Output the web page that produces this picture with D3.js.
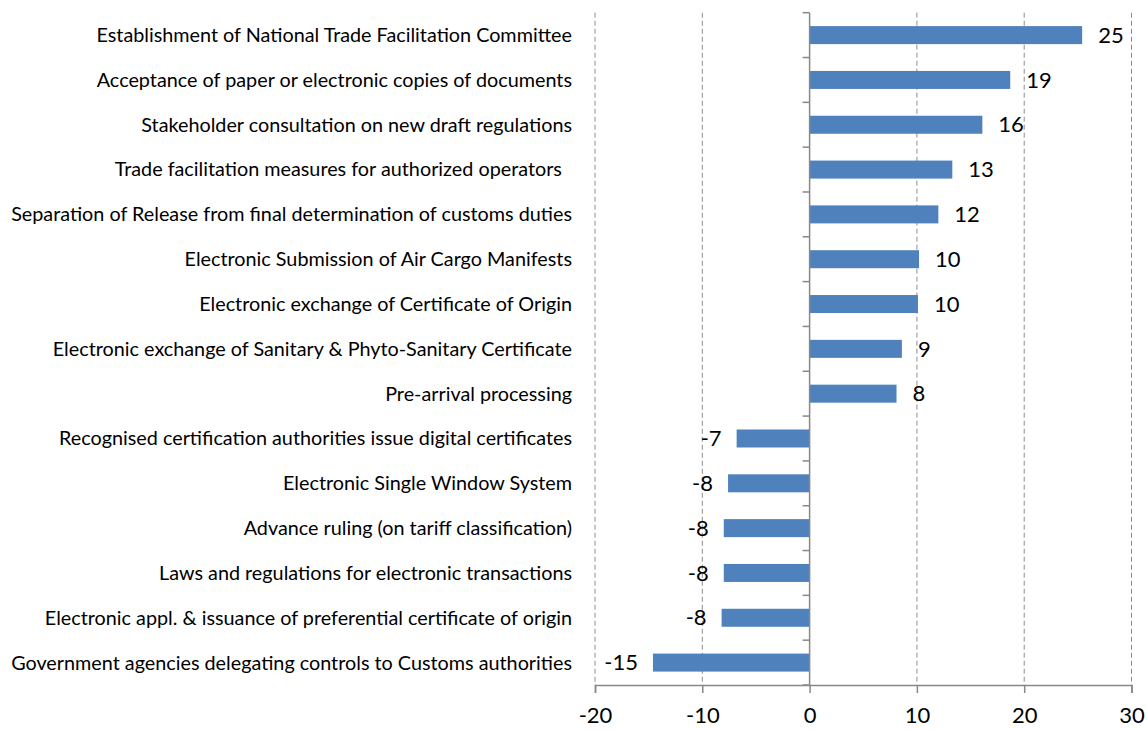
<!DOCTYPE html>
<html>
<head>
<meta charset="utf-8">
<script src="https://cdn.jsdelivr.net/npm/d3@7"></script>
<style>
  body { margin: 0; background: #fff; }
  text { font-family: Lato, "Open Sans", sans-serif; fill: #000; }
</style>
</head>
<body>
<svg id="chart" width="1147" height="730"></svg>
<script>
// categories top to bottom
var categories = [
  "Establishment of National Trade Facilitation Committee",
  "Acceptance of paper or electronic copies of documents",
  "Stakeholder consultation on new draft regulations",
  "Trade facilitation measures for authorized operators  ",
  "Separation of Release from final determination of customs duties",
  "Electronic Submission of Air Cargo Manifests",
  "Electronic exchange of Certificate of Origin",
  "Electronic exchange of Sanitary & Phyto-Sanitary Certificate",
  "Pre-arrival processing",
  "Recognised certification authorities issue digital certificates",
  "Electronic Single Window System",
  "Advance ruling (on tariff classification)",
  "Laws and regulations for electronic transactions",
  "Electronic appl. & issuance of preferential certificate of origin",
  "Government agencies delegating controls to Customs authorities"
];
var values = [25.4, 18.7, 16.1, 13.3, 12.0, 10.2, 10.1, 8.6, 8.1, -6.8, -7.6, -8.0, -8.0, -8.2, -14.6];
var valueLabels = ["25", "19", "16", "13", "12", "10", "10", "9", "8", "-7", "-8", "-8", "-8", "-8", "-15"];
var xTicks = [-20, -10, 0, 10, 20, 30];

var svg = d3.select("#chart");
var plotTop = 12.7, plotBottom = 685;

var x = d3.scaleLinear().domain([-20, 30]).range([595, 1131.5]);
var y = d3.scaleBand().domain(d3.range(categories.length)).range([plotTop, plotBottom]);

// dashed gridlines
svg.append("g").selectAll("line")
  .data(xTicks.filter(function(d){ return d !== 0; }))
  .enter().append("line")
    .attr("x1", function(d){ return x(d); })
    .attr("x2", function(d){ return x(d); })
    .attr("y1", plotTop)
    .attr("y2", plotBottom)
    .attr("stroke", "#8c8c8c")
    .attr("stroke-width", 1)
    .attr("stroke-dasharray", "5,3");

// bars
svg.append("g").selectAll("rect")
  .data(values)
  .enter().append("rect")
    .attr("x", function(d){ return x(Math.min(0, d)); })
    .attr("width", function(d){ return Math.abs(x(d) - x(0)); })
    .attr("y", function(d, i){ return y(i) + y.bandwidth() / 2 - 9; })
    .attr("height", 18)
    .attr("fill", "#4f81bd");

// bottom axis
var xAxis = d3.axisBottom(x).tickValues(xTicks).tickSize(8).tickPadding(14)
  .tickFormat(function(d){ return String(d); });
var gx = svg.append("g").attr("transform", "translate(0," + plotBottom + ")").call(xAxis);
gx.select(".domain").attr("stroke", "#888").attr("stroke-width", 1.5);
gx.selectAll(".tick line").attr("stroke", "#888").attr("stroke-width", 1.5);
gx.selectAll(".tick text").style("font-size", "22px").style("font-family", "Lato, sans-serif").attr("fill", "#000");

// zero axis with category ticks
var yTickPos = d3.range(categories.length + 1).map(function(i){ return plotTop + i * y.step(); });
svg.append("line")
  .attr("x1", x(0)).attr("x2", x(0))
  .attr("y1", plotTop).attr("y2", plotBottom)
  .attr("stroke", "#888").attr("stroke-width", 1.5);
svg.append("g").selectAll("line")
  .data(yTickPos)
  .enter().append("line")
    .attr("x1", x(0) - 7).attr("x2", x(0))
    .attr("y1", function(d){ return d; })
    .attr("y2", function(d){ return d; })
    .attr("stroke", "#888").attr("stroke-width", 1.5);

// category labels
var cats = svg.append("g").selectAll("text")
  .data(categories)
  .enter().append("text")
    .attr("x", 572)
    .attr("y", function(d, i){ return y(i) + y.bandwidth() / 2; })
    .attr("dy", "0.35em")
    .attr("text-anchor", "end")
    .style("white-space", "pre")
    .style("font-size", "17px")
    .text(function(d){ return d; });

// fit label font to the width of the longest label (~561px)
var longest = d3.max(cats.nodes(), function(n){ return n.getComputedTextLength(); });
var fs = 17 * 561 / longest;
cats.style("font-size", fs.toFixed(2) + "px");

// value labels
svg.append("g").selectAll("text")
  .data(values)
  .enter().append("text")
    .attr("x", function(d){ return d >= 0 ? x(d) + 16 : x(d) - 15; })
    .attr("y", function(d, i){ return y(i) + y.bandwidth() / 2; })
    .attr("dy", "0.35em")
    .attr("text-anchor", function(d){ return d >= 0 ? "start" : "end"; })
    .style("font-size", "22px")
    .text(function(d, i){ return valueLabels[i]; });
</script>
</body>
</html>
